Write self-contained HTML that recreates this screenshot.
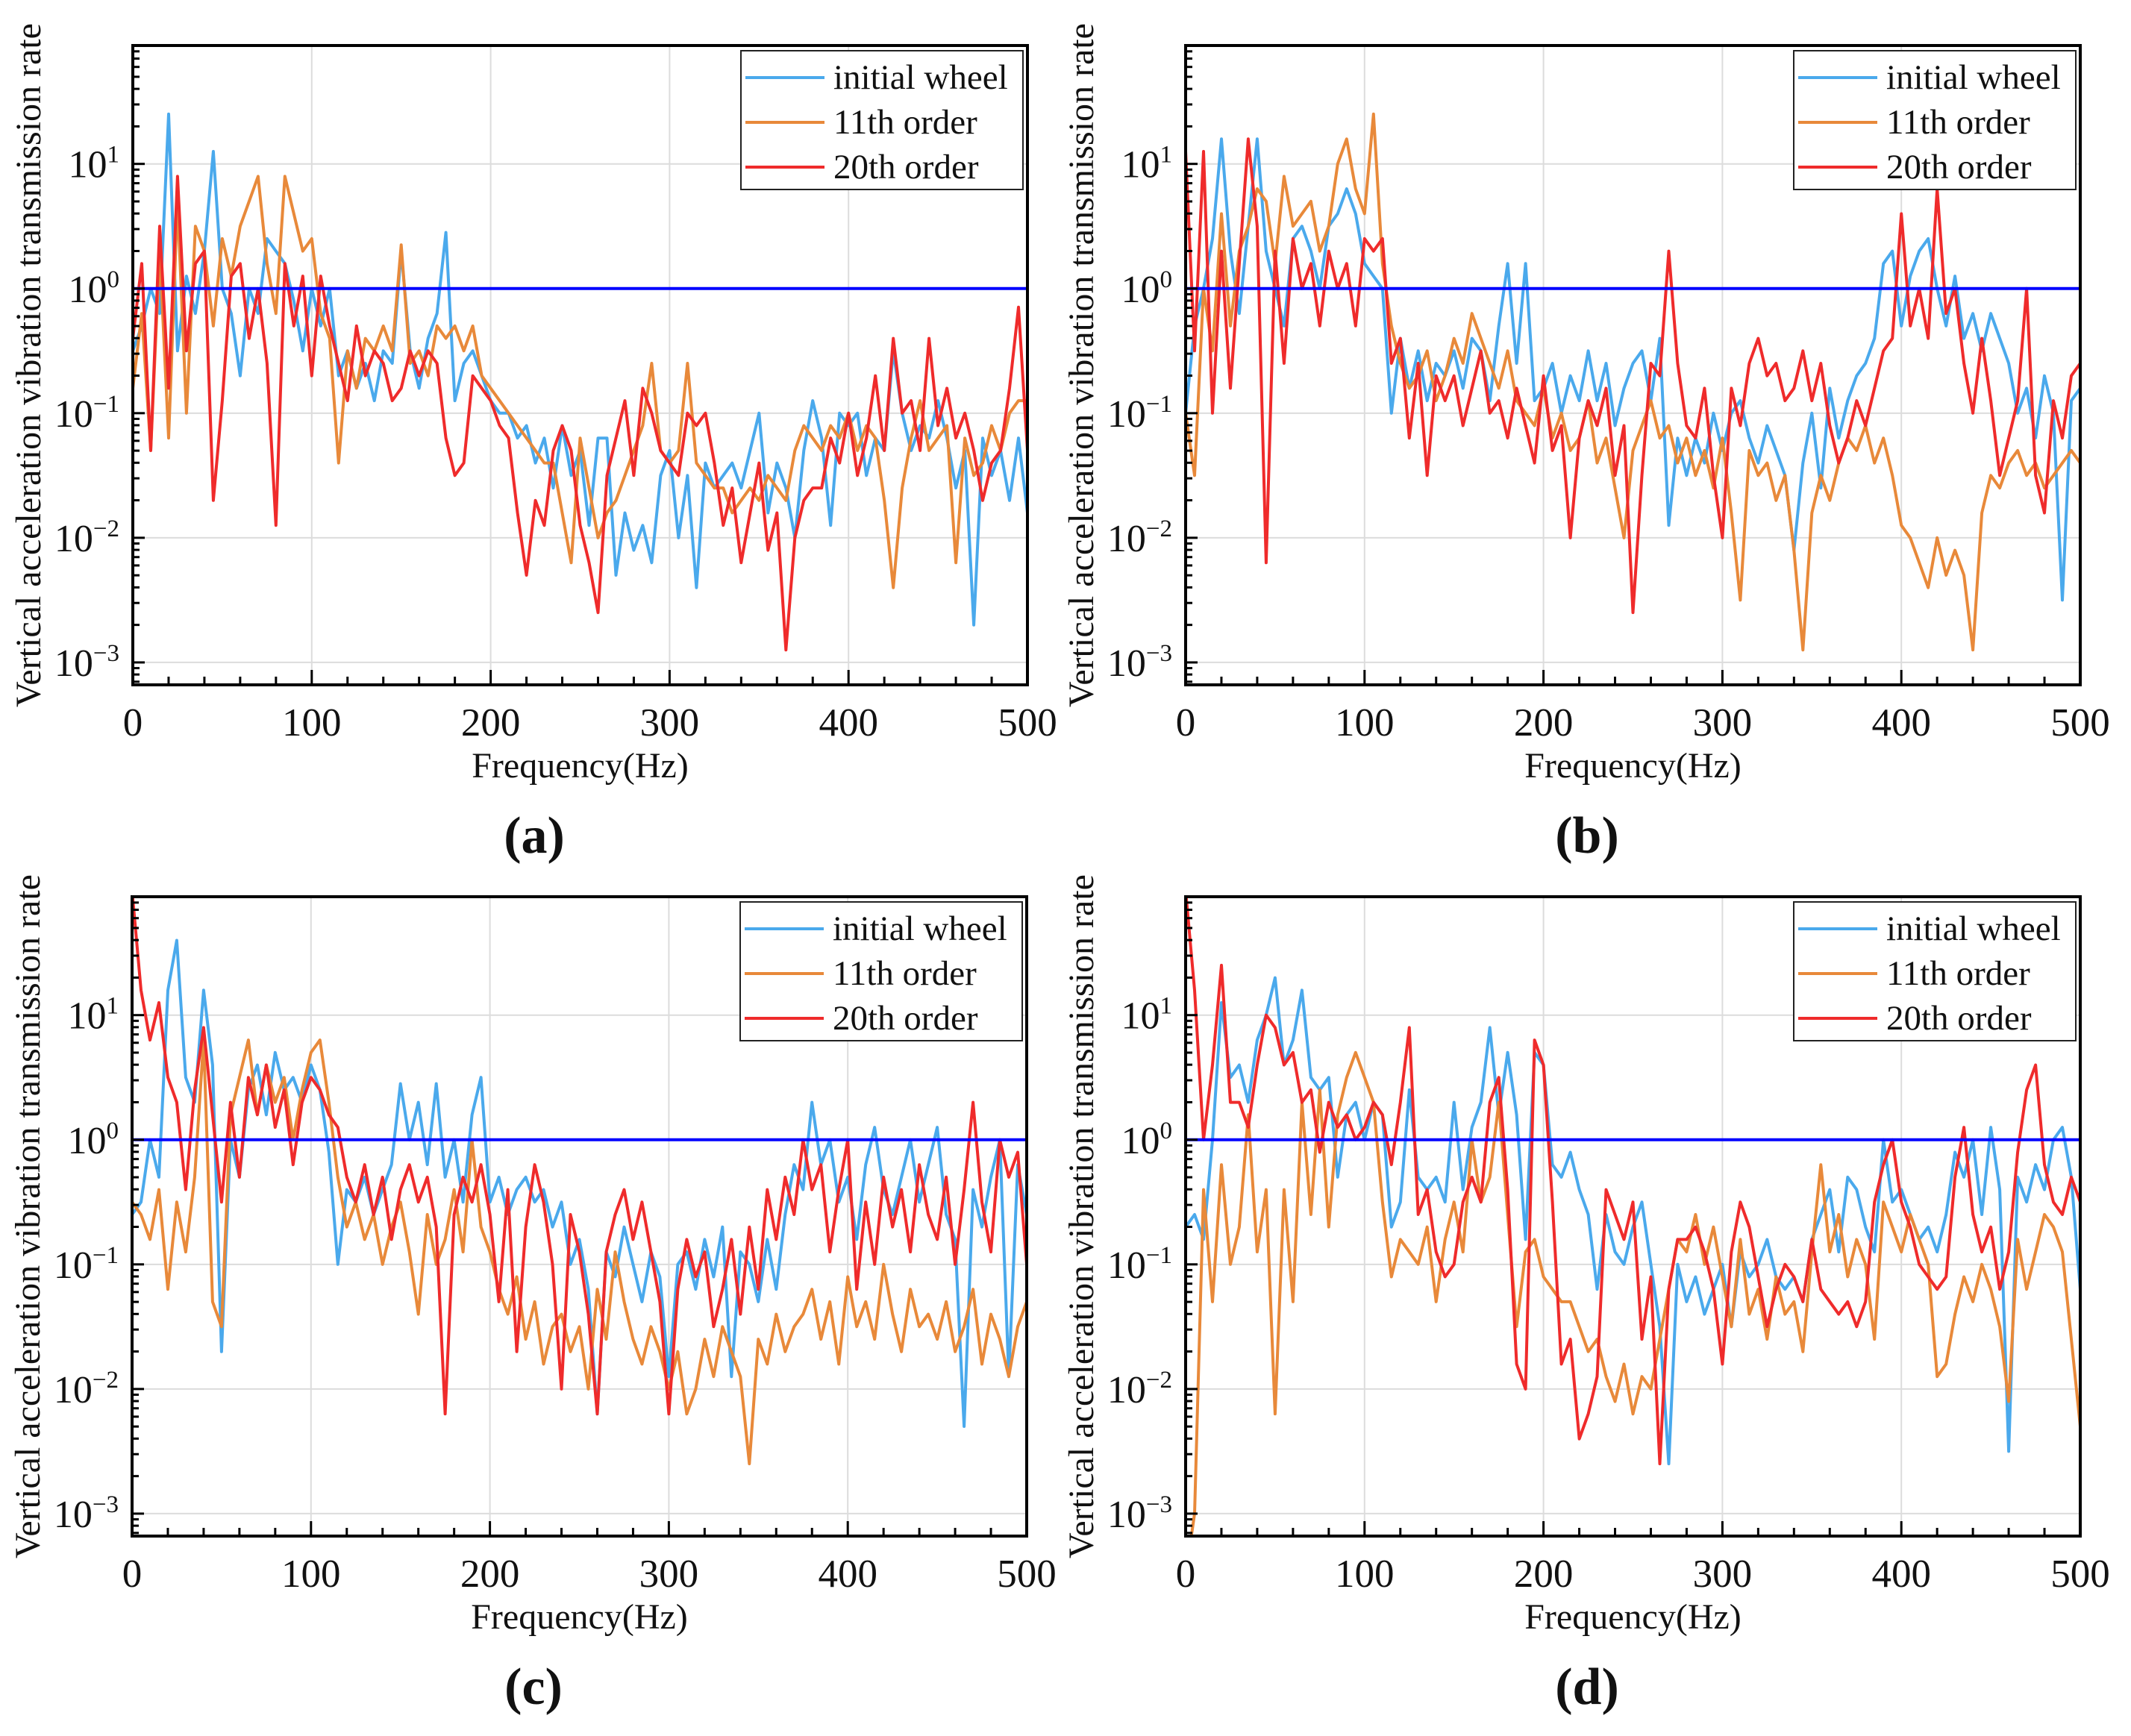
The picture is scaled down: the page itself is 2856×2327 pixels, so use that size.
<!DOCTYPE html>
<html><head><meta charset="utf-8">
<style>
html,body{margin:0;padding:0;background:#fff;}
svg{display:block;}
text{font-family:"Liberation Serif",serif;fill:#111;}
</style></head>
<body>
<svg id="fig" width="2856" height="2327" viewBox="0 0 2856 2327" xmlns="http://www.w3.org/2000/svg"></svg>
<script>
// log10 values, sampled at equal steps from 0 to 500 Hz
const aInitial=[-0.5,-0.3,0.0,-0.2,1.4,-0.5,0.1,-0.2,0.3,1.1,0.0,-0.2,-0.7,0.0,-0.2,0.4,0.3,0.2,-0.1,-0.5,0.0,-0.3,0.0,-0.7,-0.5,-0.8,-0.6,-0.9,-0.5,-0.6,0.3,-0.5,-0.8,-0.4,-0.2,0.45,-0.9,-0.6,-0.5,-0.7,-0.9,-1.0,-1.0,-1.2,-1.1,-1.4,-1.2,-1.6,-1.1,-1.5,-1.3,-1.9,-1.2,-1.2,-2.3,-1.8,-2.1,-1.9,-2.2,-1.5,-1.3,-2.0,-1.5,-2.4,-1.4,-1.6,-1.5,-1.4,-1.6,-1.3,-1.0,-1.8,-1.4,-1.6,-2.0,-1.3,-0.9,-1.2,-1.9,-1.0,-1.1,-1.0,-1.5,-1.2,-1.3,-0.5,-1.0,-1.3,-1.1,-1.2,-0.9,-1.2,-1.6,-1.3,-2.7,-1.2,-1.5,-1.3,-1.7,-1.2,-1.8];
const a11th=[-0.8,-0.2,-1.3,0.3,-1.2,0.7,-1.0,0.5,0.3,-0.3,0.4,0.1,0.5,0.7,0.9,0.2,-0.2,0.9,0.6,0.3,0.4,-0.2,-0.4,-1.4,-0.5,-0.8,-0.4,-0.5,-0.3,-0.5,0.35,-0.6,-0.5,-0.7,-0.3,-0.4,-0.3,-0.5,-0.3,-0.7,-0.8,-0.9,-1.0,-1.1,-1.2,-1.3,-1.4,-1.4,-1.8,-2.2,-1.2,-1.6,-2.0,-1.8,-1.7,-1.5,-1.3,-1.1,-0.6,-1.3,-1.4,-1.3,-0.6,-1.4,-1.5,-1.6,-1.6,-1.8,-1.7,-1.6,-1.7,-1.5,-1.6,-1.7,-1.3,-1.1,-1.2,-1.3,-1.1,-1.2,-1.0,-1.3,-1.1,-1.2,-1.7,-2.4,-1.6,-1.2,-0.9,-1.3,-1.2,-1.1,-2.2,-1.2,-1.5,-1.4,-1.1,-1.3,-1.0,-0.9,-0.9];
const a20th=[-0.4,0.2,-1.3,0.5,-0.8,0.9,-0.5,0.2,0.3,-1.7,-0.9,0.1,0.2,-0.4,0.0,-0.6,-1.9,0.2,-0.3,0.1,-0.7,0.1,-0.3,-0.6,-0.9,-0.3,-0.7,-0.5,-0.6,-0.9,-0.8,-0.5,-0.7,-0.5,-0.6,-1.2,-1.5,-1.4,-0.7,-0.8,-0.9,-1.1,-1.2,-1.8,-2.3,-1.7,-1.9,-1.3,-1.1,-1.3,-1.9,-2.2,-2.6,-1.5,-1.2,-0.9,-1.5,-0.8,-1.0,-1.3,-1.4,-1.5,-1.0,-1.1,-1.0,-1.4,-1.9,-1.6,-2.2,-1.8,-1.4,-2.1,-1.8,-2.9,-2.0,-1.7,-1.6,-1.6,-1.2,-1.4,-1.0,-1.5,-1.2,-0.7,-1.3,-0.4,-1.0,-0.9,-1.3,-0.4,-1.1,-0.8,-1.2,-1.0,-1.3,-1.7,-1.4,-1.3,-0.8,-0.15,-1.3];
const bInitial=[-1.0,-0.3,0.0,0.4,1.2,0.3,-0.2,0.5,1.2,0.3,0.0,-0.3,0.4,0.5,0.3,0.0,0.5,0.6,0.8,0.6,0.2,0.1,0.0,-1.0,-0.4,-0.8,-0.5,-0.9,-0.6,-0.7,-0.5,-0.8,-0.4,-0.5,-0.9,-0.3,0.2,-0.6,0.2,-0.9,-0.8,-0.6,-1.0,-0.7,-0.9,-0.5,-0.9,-0.6,-1.1,-0.8,-0.6,-0.5,-0.9,-0.4,-1.9,-1.2,-1.5,-1.2,-1.4,-1.0,-1.3,-1.0,-0.9,-1.2,-1.4,-1.1,-1.3,-1.5,-2.1,-1.4,-1.0,-1.6,-0.8,-1.2,-0.9,-0.7,-0.6,-0.4,0.2,0.3,-0.3,0.1,0.3,0.4,0.0,-0.3,0.1,-0.4,-0.2,-0.5,-0.2,-0.4,-0.6,-1.0,-0.8,-1.2,-0.7,-1.0,-2.5,-0.9,-0.8];
const b11th=[-1.0,-1.5,0.0,-0.5,0.6,-0.3,0.3,0.5,0.8,0.7,0.2,0.9,0.5,0.6,0.7,0.3,0.5,1.0,1.2,0.8,0.6,1.4,0.2,-0.3,-0.6,-0.8,-0.7,-0.5,-0.9,-0.7,-0.4,-0.6,-0.2,-0.4,-0.6,-0.8,-0.5,-0.9,-1.0,-1.1,-0.8,-1.2,-1.0,-1.3,-1.2,-0.9,-1.4,-1.2,-1.6,-2.0,-1.3,-1.1,-0.9,-1.2,-1.1,-1.4,-1.2,-1.5,-1.3,-1.6,-1.2,-1.8,-2.5,-1.3,-1.5,-1.4,-1.7,-1.5,-2.1,-2.9,-1.8,-1.5,-1.7,-1.4,-1.2,-1.3,-1.1,-1.4,-1.2,-1.5,-1.9,-2.0,-2.2,-2.4,-2.0,-2.3,-2.1,-2.3,-2.9,-1.8,-1.5,-1.6,-1.4,-1.3,-1.5,-1.4,-1.6,-1.5,-1.4,-1.3,-1.4];
const b20th=[1.1,-0.5,1.1,-1.0,0.3,-0.8,0.2,1.2,0.5,-2.2,0.3,-0.6,0.4,0.0,0.2,-0.3,0.3,0.0,0.2,-0.3,0.4,0.3,0.4,-0.6,-0.4,-1.2,-0.6,-1.5,-0.7,-0.9,-0.7,-1.1,-0.8,-0.5,-1.0,-0.9,-1.2,-0.8,-1.1,-1.4,-0.7,-1.3,-1.1,-2.0,-1.2,-0.9,-1.1,-0.8,-1.5,-1.1,-2.6,-1.5,-0.6,-0.7,0.3,-0.6,-1.1,-1.2,-0.8,-1.5,-2.0,-0.8,-1.1,-0.6,-0.4,-0.7,-0.6,-0.9,-0.8,-0.5,-0.9,-0.6,-1.1,-1.4,-1.2,-0.9,-1.1,-0.8,-0.5,-0.4,0.6,-0.3,0.0,-0.4,0.8,-0.2,0.0,-0.6,-1.0,-0.4,-0.9,-1.5,-1.2,-0.9,0.0,-1.5,-1.8,-0.9,-1.2,-0.7,-0.6];
const cInitial=[-0.6,-0.5,0.0,-0.3,1.2,1.6,0.5,0.3,1.2,0.6,-1.7,0.0,-0.3,0.4,0.6,0.2,0.7,0.4,0.5,0.3,0.6,0.4,-0.1,-1.0,-0.4,-0.5,-0.3,-0.6,-0.4,-0.2,0.45,0.0,0.3,-0.2,0.45,-0.3,0.0,-0.5,0.2,0.5,-0.5,-0.3,-0.6,-0.4,-0.3,-0.5,-0.4,-0.7,-0.5,-1.0,-0.8,-1.2,-2.2,-0.9,-1.1,-0.7,-1.0,-1.3,-0.9,-1.1,-1.9,-1.0,-0.9,-1.2,-0.8,-1.1,-0.7,-1.9,-0.9,-1.0,-1.3,-0.8,-1.2,-0.6,-0.2,-0.4,0.3,-0.2,0.0,-0.5,-0.3,-0.8,-0.2,0.1,-0.4,-0.6,-0.3,0.0,-0.5,-0.2,0.1,-0.6,-0.8,-2.3,-0.4,-0.7,-0.3,0.0,-1.9,-0.2,-0.6];
const c11th=[-0.5,-0.6,-0.8,-0.4,-1.2,-0.5,-0.9,-0.3,0.8,-1.3,-1.5,0.2,0.5,0.8,0.2,0.6,0.3,0.5,0.0,0.4,0.7,0.8,0.3,-0.3,-0.7,-0.5,-0.8,-0.6,-1.0,-0.7,-0.5,-0.9,-1.4,-0.6,-1.0,-0.8,-0.4,-0.9,0.0,-0.7,-0.9,-1.2,-1.4,-1.1,-1.6,-1.3,-1.8,-1.5,-1.4,-1.7,-1.5,-2.0,-1.2,-1.6,-0.9,-1.3,-1.6,-1.8,-1.5,-1.7,-2.0,-1.7,-2.2,-2.0,-1.6,-1.9,-1.5,-1.7,-1.9,-2.6,-1.6,-1.8,-1.4,-1.7,-1.5,-1.4,-1.2,-1.6,-1.3,-1.8,-1.1,-1.5,-1.3,-1.6,-1.0,-1.4,-1.7,-1.2,-1.5,-1.4,-1.6,-1.3,-1.7,-1.5,-1.2,-1.8,-1.4,-1.6,-1.9,-1.5,-1.3];
const c20th=[2.0,1.2,0.8,1.1,0.5,0.3,-0.4,0.4,0.9,0.2,-0.5,0.3,-0.3,0.5,0.2,0.6,0.1,0.4,-0.2,0.3,0.5,0.4,0.2,0.1,-0.3,-0.5,-0.2,-0.6,-0.3,-0.8,-0.4,-0.2,-0.5,-0.3,-0.7,-2.2,-0.6,-0.3,-0.5,-0.2,-0.6,-1.3,-0.4,-1.7,-0.7,-0.2,-0.5,-1.0,-2.0,-0.6,-0.9,-1.4,-2.2,-0.9,-0.6,-0.4,-0.8,-0.5,-0.9,-1.3,-2.2,-1.2,-0.8,-1.1,-0.9,-1.5,-1.2,-0.8,-1.4,-0.7,-1.2,-0.4,-0.8,-0.3,-0.6,0.0,-0.4,-0.2,-0.9,-0.4,0.0,-1.2,-0.5,-1.0,-0.3,-0.7,-0.4,-0.9,-0.2,-0.6,-0.8,-0.3,-1.0,-0.4,0.3,-0.5,-0.9,0.0,-0.3,-0.1,-1.0];
const dInitial=[-0.7,-0.6,-0.8,0.0,1.1,0.5,0.6,0.3,0.8,1.0,1.3,0.6,0.8,1.2,0.5,0.4,0.5,-0.3,0.2,0.3,0.0,0.3,0.2,-0.7,-0.5,0.4,-0.3,-0.4,-0.3,-0.5,0.3,-0.4,0.1,0.3,0.9,0.2,0.7,0.2,-0.8,0.7,0.6,-0.2,-0.3,-0.1,-0.4,-0.6,-1.2,-0.6,-0.9,-1.0,-0.7,-0.5,-1.0,-1.5,-2.6,-1.0,-1.3,-1.1,-1.4,-1.2,-1.0,-1.5,-0.9,-1.1,-1.0,-0.8,-1.1,-1.2,-1.1,-1.3,-0.8,-0.6,-0.4,-0.9,-0.3,-0.4,-0.7,-0.9,0.0,-0.5,-0.4,-0.6,-0.8,-0.7,-0.9,-0.6,-0.1,-0.3,0.0,-0.6,0.1,-0.4,-2.5,-0.3,-0.5,-0.2,-0.4,0.0,0.1,-0.3,-1.2];
const d11th=[-3.5,-3.0,-0.4,-1.3,-0.2,-1.0,-0.7,0.2,-0.9,-0.4,-2.2,-0.4,-1.3,0.3,-0.6,0.4,-0.7,0.2,0.5,0.7,0.5,0.3,-0.5,-1.1,-0.8,-0.9,-1.0,-0.7,-1.3,-0.8,-0.5,-0.9,0.0,-0.5,-0.3,0.3,-0.6,-1.5,-0.9,-0.8,-1.1,-1.2,-1.3,-1.3,-1.5,-1.7,-1.6,-1.9,-2.1,-1.8,-2.2,-1.9,-2.0,-1.6,-1.2,-0.8,-0.9,-0.6,-1.0,-0.7,-1.1,-1.5,-0.8,-1.4,-1.2,-1.6,-1.1,-1.4,-1.3,-1.7,-0.9,-0.2,-0.9,-0.6,-1.1,-0.8,-1.0,-1.6,-0.5,-0.7,-0.9,-0.6,-0.8,-1.0,-1.9,-1.8,-1.4,-1.1,-1.3,-1.0,-1.2,-1.5,-2.1,-0.8,-1.2,-0.9,-0.6,-0.7,-0.9,-1.6,-2.3];
const d20th=[2.0,1.2,0.0,0.6,1.4,0.3,0.3,0.1,0.6,1.0,0.9,0.6,0.7,0.3,0.4,-0.1,0.3,0.1,0.2,0.0,0.1,0.3,0.2,-0.2,0.3,0.9,-0.6,-0.4,-0.9,-1.1,-1.0,-0.5,-0.3,-0.5,0.3,0.5,-0.4,-1.8,-2.0,0.8,0.6,-0.5,-1.8,-1.6,-2.4,-2.2,-1.9,-0.4,-0.6,-0.8,-0.5,-1.6,-1.1,-2.6,-1.2,-0.8,-0.8,-0.7,-0.9,-1.2,-1.8,-0.9,-0.5,-0.7,-1.1,-1.5,-1.2,-1.0,-1.1,-1.3,-0.8,-1.2,-1.3,-1.4,-1.3,-1.5,-1.3,-0.5,-0.2,0.0,-0.5,-0.7,-1.0,-1.1,-1.2,-1.1,-0.3,0.1,-0.6,-0.9,-0.7,-1.2,-0.9,-0.1,0.4,0.6,-0.2,-0.5,-0.6,-0.3,-0.5];
const xTicks=[0,100,200,300,400,500];
const yTickExps=[1,0,-1,-2,-3];
const seriesNames=["initial wheel","11th order","20th order"];
const panelLabels=["(a)","(b)","(c)","(d)"];

const NS="http://www.w3.org/2000/svg";
const svg=document.getElementById('fig');
const colors=["#4aa9ec","#e8893a","#ef2b2b"];
function mk(tag,attrs,parent){const e=document.createElementNS(NS,tag);for(const k in attrs)e.setAttribute(k,attrs[k]);(parent||svg).appendChild(e);return e;}
const panels=[
 {x0:178,y0:61,data:[aInitial,a11th,a20th],key:'a'},
 {x0:1589,y0:61,data:[bInitial,b11th,b20th],key:'b'},
 {x0:177,y0:1202,data:[cInitial,c11th,c20th],key:'c'},
 {x0:1589,y0:1202,data:[dInitial,d11th,d20th],key:'d'}
];
const W=1199,H=857,yMax=1.95,yMin=-3.18;
panels.forEach((p,pi)=>{
 const g=mk('g',{});
 
 
 const xS=f=>p.x0+f/500*W;
 const yS=l=>p.y0+(yMax-l)/(yMax-yMin)*H;
 xTicks.forEach(t=>{if(t>0&&t<500){const l=mk('line',{x1:xS(t),x2:xS(t),y1:p.y0,y2:p.y0+H,stroke:'#dcdcdc','stroke-width':2},g);}});
 yTickExps.forEach(e=>{const l=mk('line',{x1:p.x0,x2:p.x0+W,y1:yS(e),y2:yS(e),stroke:'#dcdcdc','stroke-width':2},g);});
 const cp=mk('clipPath',{id:'clip'+pi},g);mk('rect',{x:p.x0,y:p.y0,width:W,height:H},cp);
 const sg=mk('g',{'clip-path':'url(#clip'+pi+')'},g);
 p.data.forEach((arr,si)=>{
  const n=arr.length;
  const d=arr.map((v,i)=>(i?'L':'M')+xS(i*500/(n-1)).toFixed(1)+','+yS(v).toFixed(1)).join('');
  const path=mk('path',{d:d,fill:'none',stroke:colors[si],'stroke-width':4,'stroke-linejoin':'round'},sg);
  
  
 });
 const ref=mk('line',{x1:p.x0,x2:p.x0+W,y1:yS(0),y2:yS(0),stroke:'#0000ff','stroke-width':4},g);
 
 
 const fr=mk('rect',{x:p.x0,y:p.y0,width:W,height:H,fill:'none',stroke:'#000','stroke-width':4},g);
 
 
 for(let f=0;f<=500;f+=20){const maj=f%100===0;mk('line',{x1:xS(f),x2:xS(f),y1:p.y0+H,y2:p.y0+H-(maj?20:11),stroke:'#000','stroke-width':3},g);}
 xTicks.forEach(t=>{const tx=mk('text',{x:xS(t),y:p.y0+H+68,'text-anchor':'middle','font-size':53},g);tx.textContent=t;});
 for(let e=-4;e<=1;e++){for(let m=1;m<=9;m++){const l=e+Math.log10(m);if(l<yMin||l>yMax)continue;mk('line',{x1:p.x0,x2:p.x0+(m===1?16:9),y1:yS(l),y2:yS(l),stroke:'#000','stroke-width':3},g);}}
 yTickExps.forEach(e=>{const tx=mk('text',{x:p.x0-18,y:yS(e)+18,'text-anchor':'end','font-size':52},g);
  
  const t1=mk('tspan',{},tx);t1.textContent='10';const t2=mk('tspan',{dy:-20,'font-size':33},tx);t2.textContent=(e<0?'\u2212':'')+Math.abs(e);});
 const yt=mk('text',{x:0,y:0,'text-anchor':'middle','font-size':48,transform:'translate('+(p.x0-124)+','+(p.y0+H/2)+') rotate(-90)'},g);
 yt.textContent='Vertical acceleration vibration transmission rate';
 
 const xt=mk('text',{x:p.x0+W/2,y:p.y0+H+124,'text-anchor':'middle','font-size':48},g);
 xt.textContent='Frequency(Hz)';
 
 const pl=mk('text',{x:p.x0+538,y:p.y0+H+225,'text-anchor':'middle','font-size':70,'font-weight':'bold'},g);
 pl.textContent=panelLabels[pi];
 
 const lx=p.x0+W-384,ly=p.y0+7;
 const lg=mk('g',{},g);
 
 mk('rect',{x:lx,y:ly,width:378,height:186,fill:'#fff',stroke:'#222','stroke-width':2},lg);
 seriesNames.forEach((s,si)=>{const yy=ly+36+si*60;
  const ln=mk('line',{x1:lx+6,x2:lx+112,y1:yy,y2:yy,stroke:colors[si],'stroke-width':4},lg);
  
  const t=mk('text',{x:lx+124,y:yy+15,'font-size':47},lg);t.textContent=s;
  });
});
</script>
</body></html>
